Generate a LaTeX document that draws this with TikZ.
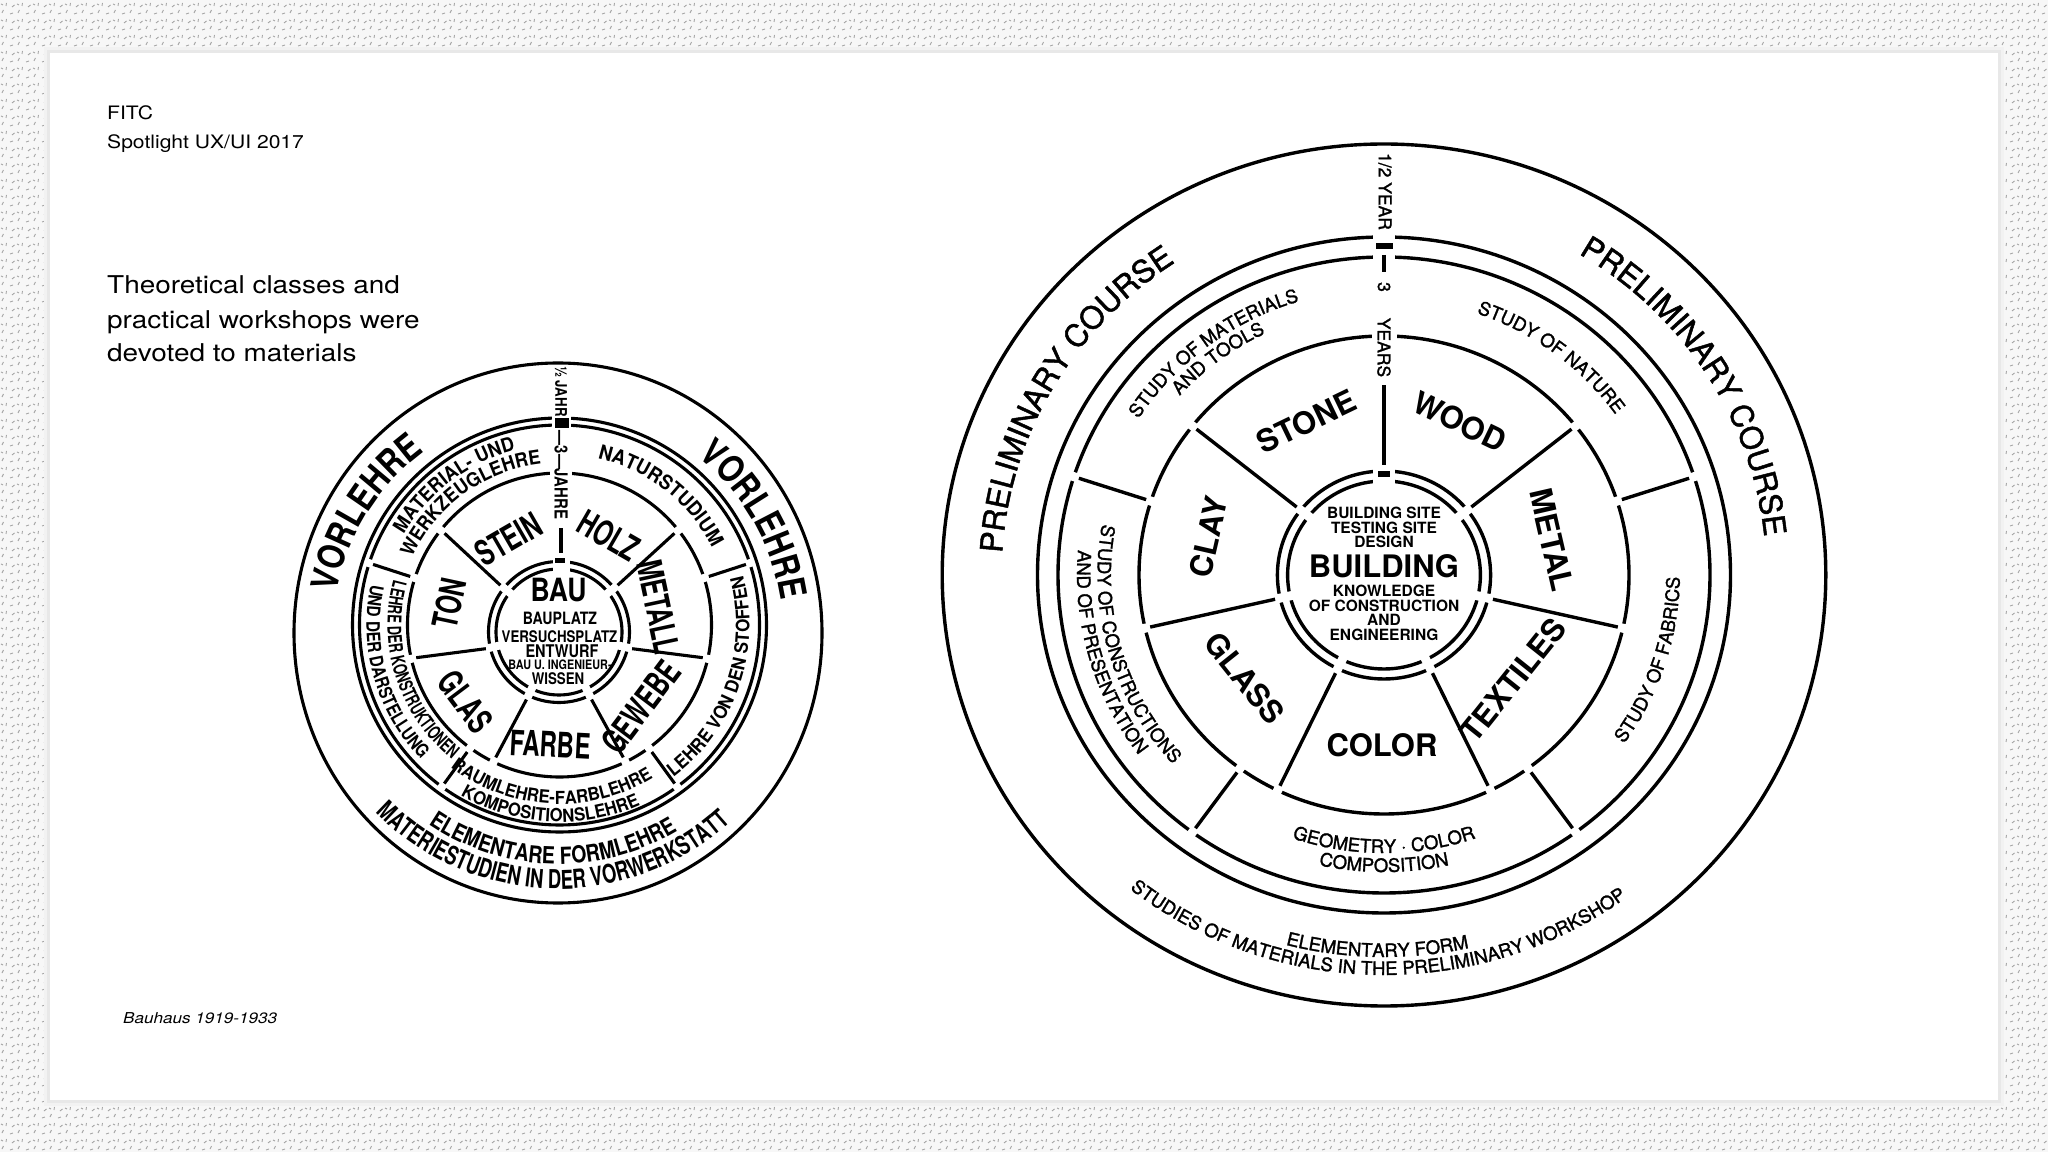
\documentclass[tikz,border=0pt]{standalone}
\usepackage{fontspec}
\setmainfont{TeX Gyre Heros}
\newfontfamily\cnA[FakeStretch=0.68]{TeX Gyre Heros}
\newfontfamily\cnB[FakeStretch=0.83]{TeX Gyre Heros}
\newfontfamily\cnC[FakeStretch=0.71]{TeX Gyre Heros}
\newfontfamily\cnD[FakeStretch=0.93]{TeX Gyre Heros}
\newfontfamily\wide[FakeStretch=1.14]{TeX Gyre Heros}
\newfontfamily\med[FakeBold=1.5]{TeX Gyre Heros}
\usetikzlibrary{decorations.text,patterns}
\pgfdeclarepatternformonly{bgdash}{\pgfqpoint{-1pt}{-1pt}}{\pgfqpoint{17pt}{17pt}}{\pgfqpoint{16pt}{16pt}}{%
  \pgfsetlinewidth{0.9pt}%
  \pgfpathmoveto{\pgfqpoint{2pt}{3pt}}\pgfpathlineto{\pgfqpoint{3.5pt}{6pt}}%
  \pgfpathmoveto{\pgfqpoint{10pt}{2pt}}\pgfpathlineto{\pgfqpoint{13pt}{3pt}}%
  \pgfpathmoveto{\pgfqpoint{6pt}{10pt}}\pgfpathlineto{\pgfqpoint{6.5pt}{13pt}}%
  \pgfpathmoveto{\pgfqpoint{12pt}{9pt}}\pgfpathlineto{\pgfqpoint{14.5pt}{11pt}}%
  \pgfpathmoveto{\pgfqpoint{1pt}{12pt}}\pgfpathlineto{\pgfqpoint{3pt}{11pt}}%
  \pgfusepath{stroke}}
\newcommand\fsz[1]{\fontsize{#1}{#1}\selectfont}
\newcommand\arctext[7]{%
  \path[decorate,decoration={text along path,text align=center,text={|#6|#7}}]
    ([shift={(#4:#2 and #3)}]#1) arc[start angle=#4,end angle=#5,x radius=#2,y radius=#3];}
\newcommand\erase[6]{%
  \draw[white,line width=#5] ([shift={(#2:{#3*#6} and #3)}]#1) -- ([shift={(#2:{#4*#6} and #4)}]#1);}
\begin{document}
\begin{tikzpicture}[x=1pt,y=1pt,
  rl/.style={line width=3.4pt},
  ll/.style={line width=3.1pt},
  barnode/.style={fill=black,inner sep=0pt,outer sep=0pt},
  slide/.style={anchor=base west,inner sep=0pt},
  rws/.style={inner sep=0pt,font=\bfseries\fsz{31}},
  lws/.style={inner sep=0pt,font=\cnA\bfseries\fsz{35}},
  rctr/.style={anchor=base,inner sep=0pt,font=\bfseries\fsz{15.5}},
  lctr/.style={inner sep=0pt},
  axr/.style={inner sep=0pt,rotate=-90,font=\med\fsz{17.5}},
  axl/.style={inner sep=0pt,rotate=-90,font=\cnB\bfseries\fsz{17}}]
\useasboundingbox (0,0) rectangle (2048,1152);
% background and panel
\fill[black!3] (0,0) rectangle (2048,1152);
\fill[pattern=bgdash,pattern color=black!35] (0,0) rectangle (2048,1152);
\fill[black!5] (44,46) rectangle (2004,1105);
\fill[black!9] (47,49) rectangle (2001,1102);
\fill[white] (50,52) rectangle (1998,1099);

% slide texts
\node[slide,font=\wide\fsz{18.5}] (fitc) at (107,1032) {FITC};
\node[slide,font=\wide\fsz{18.5}] (spot) at (107,1003.7) {Spotlight UX/UI 2017};
\node[slide,font=\wide\fsz{24.5}] (h1) at (107,858) {Theoretical classes and};
\node[slide,font=\wide\fsz{24.5}] (h2) at (107,823.3) {practical workshops were};
\node[slide,font=\wide\fsz{24.5}] (h3) at (107,790.3) {devoted to materials};
\node[slide,font=\wide\itshape\fsz{15}] (bh) at (123,128.7) {Bauhaus 1919-1933};

% ================= RIGHT DIAGRAM =================
\coordinate (RC) at (1384,577);
\draw[rl] (RC) ellipse[x radius=441.8, y radius=431];
\draw[rl] (RC) ellipse[x radius=346.5, y radius=338];
\draw[rl] (RC) ellipse[x radius=326, y radius=318];
\draw[rl] (RC) ellipse[x radius=245, y radius=239];
\draw[rl] (RC) ellipse[x radius=106.6, y radius=104];
\draw[rl] (RC) ellipse[x radius=96.4, y radius=94];
% workshop spokes
\foreach \a in {38.571,-12.857,-64.286,-115.714,-167.143,141.429}{
  \erase{RC}{\a}{88}{110}{9}{1.025}
  \erase{RC}{\a}{233}{245}{9}{1.025}
  \draw[rl] ([shift={(\a:{109*1.025} and 109)}]RC) -- ([shift={(\a:{234*1.025} and 234)}]RC);
}
% study spokes
\foreach \a in {18,-54,-126,162}{
  \erase{RC}{\a}{233}{245}{9}{1.025}
  \erase{RC}{\a}{312}{324}{9}{1.025}
  \draw[rl] ([shift={(\a:{244*1.025} and 244)}]RC) -- ([shift={(\a:{313*1.025} and 313)}]RC);
}
% axis
\draw[white,line width=22pt] (1384,666) -- (1384,686);
\draw[white,line width=25pt] (1384,808) -- (1384,824);
\draw[white,line width=22pt] (1384,889) -- (1384,921);
\node[barnode,minimum width=12pt,minimum height=6pt] (rbar1) at (1384,678) {};
\node[barnode,minimum width=17pt,minimum height=6pt] (rbar2) at (1384,906) {};
\draw[line width=4pt] (1384,897) -- (1384,880);
\draw[rl] (1384,687) -- (1384,767);
\node[axr] (half) at (1385,960.5) {1/2 YEAR};
\node[axr] (three) at (1384,865) {3};
\node[axr] (years) at (1384,804.5) {YEARS};
% workshop labels
\node[rws,rotate=25.7] (stone) at (1306.7,730.3) {STONE};
\node[rws,rotate=-25.7] (wood) at (1460,730.3) {WOOD};
\node[rws,rotate=-77.1] (metal) at (1551.7,612) {METAL};
\node[rws,rotate=51.4] (textiles) at (1513.3,472) {TEXTILES};
\node[rws] (color) at (1382,407) {COLOR};
\node[rws,rotate=-51.4] (glass) at (1245,474) {GLASS};
\node[rws,rotate=77.1] (clay) at (1208.3,615.3) {CLAY};
% centre texts
\node[rctr] (bsite) at (1384,633.7) {BUILDING SITE};
\node[rctr] (tsite) at (1384,618.7) {TESTING SITE};
\node[rctr] (design) at (1384,604.1) {DESIGN};
\node[rctr,font=\bfseries\fsz{31}] (building) at (1384,574.1) {BUILDING};
\node[rctr] (know) at (1384,555.7) {KNOWLEDGE};
\node[rctr] (ofc) at (1384,540.7) {OF CONSTRUCTION};
\node[rctr] (and) at (1384,526.1) {AND};
\node[rctr] (eng) at (1384,511.4) {ENGINEERING};
% ring texts
\arctext{RC}{382.3}{373}{190}{110}{\med\fsz{31}}{PRELIMINARY COURSE}
\arctext{RC}{382.3}{373}{72.5}{-7.5}{\med\fsz{31}}{PRELIMINARY COURSE}
\arctext{RC}{391.6}{382}{-121}{-61}{\med\fsz{18.5}}{ELEMENTARY FORM}
\arctext{RC}{410}{400}{-146}{-36}{\med\fsz{18.5}}{STUDIES OF MATERIALS IN THE PRELIMINARY WORKSHOP}
\arctext{RC}{293.2}{286}{162}{92}{\med\fsz{18.5}}{STUDY OF MATERIALS}
\arctext{RC}{274.7}{268}{162}{92}{\med\fsz{18.5}}{AND TOOLS}
\arctext{RC}{283.9}{277}{88}{18}{\med\fsz{18.5}}{STUDY OF NATURE}
\arctext{RC}{286.5}{279.5}{160}{232}{\med\fsz{18.5}}{STUDY OF CONSTRUCTIONS}
\arctext{RC}{307}{299.5}{160}{232}{\med\fsz{18.5}}{AND OF PRESENTATION}
\arctext{RC}{295.7}{288.5}{-54}{18}{\med\fsz{18.5}}{STUDY OF FABRICS}
\arctext{RC}{285}{278}{-126}{-54}{\med\fsz{18.5}}{GEOMETRY · COLOR}
\arctext{RC}{304.4}{297}{-126}{-54}{\med\fsz{18.5}}{COMPOSITION}

% ================= LEFT DIAGRAM =================
\coordinate (LO) at (558,519);
\coordinate (LR) at (559.5,527);
\coordinate (LC) at (559,520);
\draw[ll] (LO) ellipse[x radius=264, y radius=270];
\draw[ll] (LR) circle[radius=207];
\draw[ll] (LR) circle[radius=200];
\draw[ll] (LR) circle[radius=152];
\draw[ll] (LC) circle[radius=70.5];
\draw[ll] (LC) circle[radius=63];
\foreach \a in {38.571,-12.857,-64.286,-115.714,-167.143,141.429}{
  \erase{LC}{\a}{58}{76}{8}{1}
  \erase{LR}{\a}{146}{158}{8}{1}
  \draw[ll] ([shift={(\a:75)}]LC) -- ([shift={(\a:147)}]LR);
}
\foreach \a in {18,-54,-126,162}{
  \erase{LR}{\a}{146}{158}{8}{1}
  \erase{LR}{\a}{195}{203.5}{8}{1}
  \draw[ll] ([shift={(\a:157)}]LR) -- ([shift={(\a:196)}]LR);
}
% axis
\draw[white,line width=17pt] (561,579) -- (561,595);
\draw[white,line width=22pt] (561,673) -- (561,685);
\draw[white,line width=19pt] (561,723) -- (561,738);
\node[barnode,minimum width=10pt,minimum height=5pt] (lbar1) at (560,591.5) {};
\node[barnode,minimum width=14pt,minimum height=10pt] (lbar2) at (562,728.5) {};
\draw[ll] (561,599) -- (561,624);
\node[axl,font=\cnB\bfseries\fsz{16}] (lhalf) at (561,760.5) {½ JAHR};
\node[axl,font=\cnB\bfseries\fsz{18}] (ldrei) at (561,677) {—3—JAHRE};
% workshop labels
\node[lws,rotate=78] (ton) at (449.6,548.4) {TON};
\node[lws,rotate=30] (stein) at (508.6,612.7) {STEIN};
\node[lws,rotate=-30] (holz) at (608.6,616.3) {HOLZ};
\node[lws,rotate=-78] (metall) at (658.6,545) {METALL};
\node[lws,rotate=53] (gewebe) at (640.7,445) {GEWEBE};
\node[lws,rotate=-3] (farbe) at (550.4,407.4) {FARBE};
\node[lws,rotate=-53] (glas) at (465.7,450.2) {GLAS};
% centre
\node[lctr,font=\cnB\bfseries\fsz{32}] (bau) at (558.5,562) {BAU};
\node[lctr,font=\cnB\bfseries\fsz{17}] (bauplatz) at (560,534) {BAUPLATZ};
\node[lctr,font=\cnB\bfseries\fsz{16}] (versuch) at (559.5,515.5) {VERSUCHSPLATZ};
\node[lctr,font=\cnB\bfseries\fsz{17.5}] (entwurf) at (562,500.5) {ENTWURF};
\node[lctr,font=\cnB\bfseries\fsz{13}] (ing) at (560,487) {BAU U. INGENIEUR-};
\node[lctr,font=\cnB\bfseries\fsz{16}] (wissen) at (558,473.5) {WISSEN};
% ring texts
\arctext{LO}{225}{225}{188}{108}{\cnB\bfseries\fsz{37}}{VORLEHRE}
\arctext{LO}{225}{225}{70}{-10}{\cnB\bfseries\fsz{37}}{VORLEHRE}
\arctext{LO}{231}{231}{-136.5}{-46.5}{\cnB\bfseries\fsz{23.5}}{ELEMENTARE FORMLEHRE}
\arctext{LO}{256}{256}{-151.5}{-31.5}{\cnC\bfseries\fsz{26}}{MATERIESTUDIEN IN DER VORWERKSTATT}
\arctext{LR}{180}{180}{162}{92}{\cnD\bfseries\fsz{19.5}}{MATERIAL- UND}
\arctext{LR}{162}{162}{166}{86}{\cnD\bfseries\fsz{19.5}}{WERKZEUGLEHRE}
\arctext{LR}{171}{171}{92}{12}{\cnD\bfseries\fsz{20}}{NATURSTUDIUM}
\arctext{LR}{172}{172}{158}{238}{\cnA\bfseries\fsz{19}}{LEHRE DER KONSTRUKTIONEN}
\arctext{LR}{193}{193}{160}{232}{\cnB\bfseries\fsz{18.5}}{UND DER DARSTELLUNG}
\arctext{LR}{190}{190}{-59}{21}{\cnD\bfseries\fsz{18.5}}{LEHRE VON DEN STOFFEN}
\arctext{LR}{179}{179}{-133}{-53}{\cnD\bfseries\fsz{18}}{RAUMLEHRE-FARBLEHRE}
\arctext{LR}{197}{197}{-133}{-53}{\cnD\bfseries\fsz{18}}{KOMPOSITIONSLEHRE}
\end{tikzpicture}
\end{document}
